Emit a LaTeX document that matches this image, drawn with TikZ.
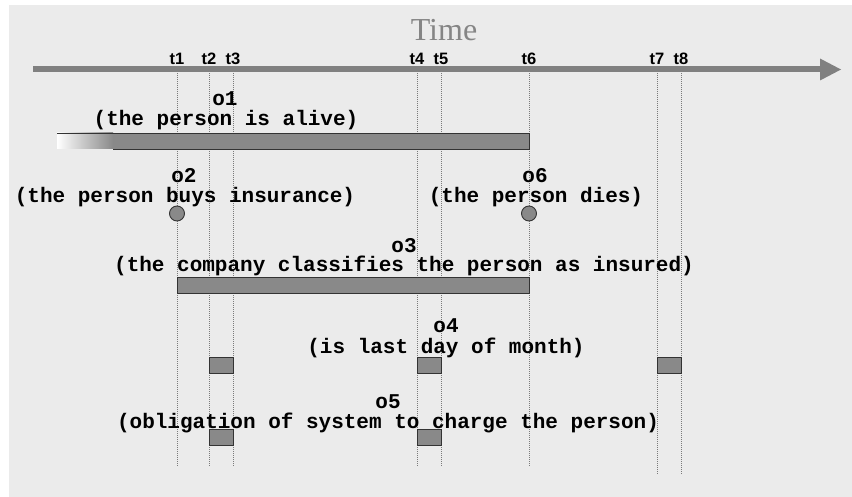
\documentclass[tikz,border=0pt]{standalone}
\usepackage{fontspec}
\setmainfont{Liberation Serif}
\newfontfamily\monof{Liberation Mono}
\newfontfamily\sansf{Liberation Sans}
\definecolor{bgg}{HTML}{EBEBEB}
\definecolor{axisg}{HTML}{808080}
\definecolor{barg}{HTML}{898989}
\definecolor{bard}{HTML}{333333}
\definecolor{lineg}{HTML}{7A7A7A}
\definecolor{timeg}{HTML}{858585}
\begin{document}
\begin{tikzpicture}[x=1pt,y=-1pt,
  lbl/.style={font=\monof\bfseries\fontsize{21}{21}\selectfont, anchor=base, inner sep=0pt},
  tlbl/.style={font=\sansf\bfseries\fontsize{16.5}{16.5}\selectfont, anchor=base, inner sep=0pt},
  barbox/.style={fill=barg, draw=bard, line width=0.9pt},
  vline/.style={draw=lineg, line width=0.6pt, dash pattern=on 1pt off 1pt}]
\useasboundingbox (0,0) rectangle (852,497);
\fill[bgg] (9,5) rectangle (852,497);
% title
\node[font=\fontsize{32}{32}\selectfont, text=timeg, anchor=base, inner sep=0pt] (time) at (444,41) {Time};
% axis
\coordinate (axs) at (33,69.5);
\coordinate (axe) at (822,69.5);
\draw[axisg, line width=6pt] (axs) -- (axe);
\fill[axisg] (820,58.5) -- (841,69.5) -- (820,80.5) -- cycle;
% time labels
\foreach \n/\x in {1/177,2/209,3/233,4/417,5/441,6/529,7/657,8/681}{
  \node[tlbl] (t\n) at (\x,65) {t\n};
  \coordinate (vt\n) at (\x,73);
}
\foreach \n/\x in {1/177,2/209,3/233,4/417,5/441,6/529}{
  \coordinate (vb\n) at (\x,466);
}
\foreach \n/\x in {7/657,8/681}{
  \coordinate (vb\n) at (\x,474);
}
\foreach \n in {1,...,8}{
  \draw[vline] (vt\n) -- (vb\n);
}
% o1 bar with fade-in
\shade[left color=white, right color=barg] (57,133) rectangle (113,149);
\fill[barg] (113,133) rectangle (529,149);
\draw[bard, line width=0.9pt] (57,133) -- (529,133) -- (529,149) -- (113,149);
% o2/o6 circles
\draw[barbox] (177,213.5) circle (7.5);
\draw[barbox] (529,213.5) circle (7.5);
% o3 bar
\draw[barbox] (177,277) rectangle (529,293);
% o4 boxes
\draw[barbox] (209,357) rectangle (233,373);
\draw[barbox] (417,357) rectangle (441,373);
\draw[barbox] (657,357) rectangle (681,373);
% o5 boxes
\draw[barbox] (209,429.5) rectangle (233,445.5);
\draw[barbox] (417,429.5) rectangle (441,445.5);
% labels
\node[lbl] (o1) at (225,106) {o1};
\node[lbl] (o1d) at (226,126) {(the person is alive)};
\node[lbl] (o2) at (184,183) {o2};
\node[lbl] (o2d) at (185,203) {(the person buys insurance)};
\node[lbl] (o6) at (535,183) {o6};
\node[lbl] (o6d) at (536,203) {(the person dies)};
\node[lbl] (o3) at (404,252.5) {o3};
\node[lbl] (o3d) at (404,272) {(the company classifies the person as insured)};
\node[lbl] (o4) at (446,333) {o4};
\node[lbl] (o4d) at (446,353) {(is last day of month)};
\node[lbl] (o5) at (388,408.5) {o5};
\node[lbl] (o5d) at (388,428) {(obligation of system to charge the person)};
\end{tikzpicture}
\end{document}
